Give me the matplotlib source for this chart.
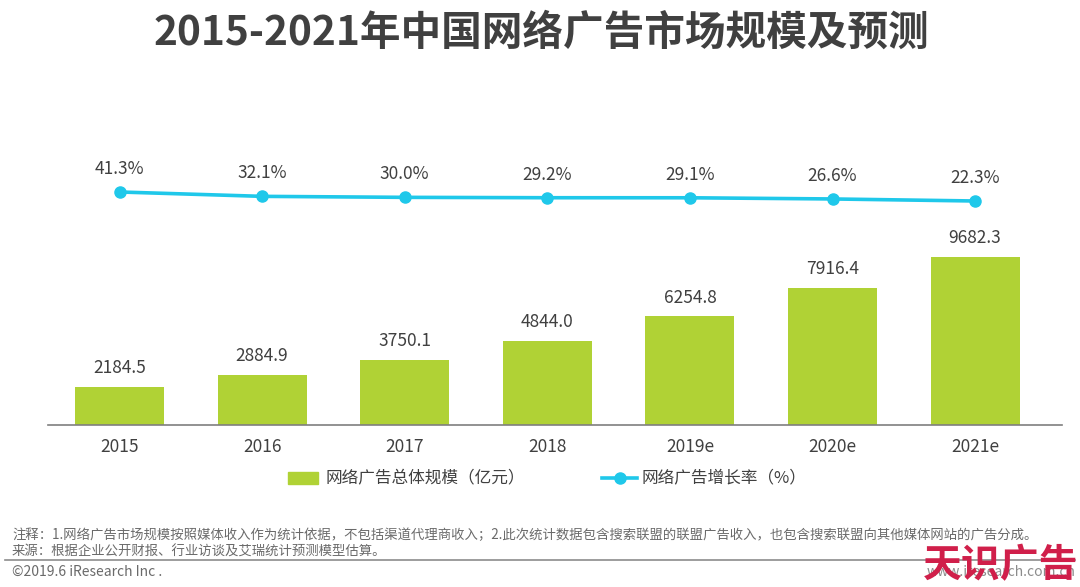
import matplotlib
matplotlib.use("Agg")
import matplotlib.pyplot as plt
from matplotlib.lines import Line2D
from matplotlib.patches import Patch

plt.rcParams['font.family'] = ['Noto Sans CJK SC', 'DejaVu Sans']

W, H = 1080, 587
categories = ['2015', '2016', '2017', '2018', '2019e', '2020e', '2021e']
market_size = [2184.5, 2884.9, 3750.1, 4844.0, 6254.8, 7916.4, 9682.3]
growth_rate = [41.3, 32.1, 30.0, 29.2, 29.1, 26.6, 22.3]
title = '2015-2021年中国网络广告市场规模及预测'
legend_bar = '网络广告总体规模（亿元）'
legend_line = '网络广告增长率（%）'
note1 = '注释：1.网络广告市场规模按照媒体收入作为统计依据，不包括渠道代理商收入；2.此次统计数据包含搜索联盟的联盟广告收入，也包含搜索联盟向其他媒体网站的广告分成。'
note2 = '来源：根据企业公开财报、行业访谈及艾瑞统计预测模型估算。'
copyright_text = '©2019.6 iResearch Inc .'
website = 'www.iresearch.com.cn'
brand = '天识广告'

GREEN = '#B0D235'
BLUE = '#1FC8EA'
TEXT = '#404040'
NOTE = '#6a6a6a'
BRAND = '#D01F4A'

fig = plt.figure(figsize=(W/100, H/100), dpi=100, facecolor='white')

def box(l, t, r, b):
    return [l/W, 1-b/H, (r-l)/W, (b-t)/H]

x = list(range(len(categories)))
ax = fig.add_axes(box(48, 240, 1062, 425))
ax.bar(x, market_size, width=0.625, color=GREEN)
ax.set_xlim((48-119.5)/142.6, (1062-119.5)/142.6)
ax.set_ylim(0, 9682.3*185/168)
for s in ['top', 'left', 'right']:
    ax.spines[s].set_visible(False)
ax.spines['bottom'].set_color('#7f7f7f')
ax.spines['bottom'].set_linewidth(1.2)
ax.set_yticks([])
ax.set_xticks(x)
ax.set_xticklabels(categories, fontsize=12.5, color=TEXT)
ax.tick_params(axis='x', length=0, pad=9)
for xi, v in zip(x, market_size):
    ax.annotate(f'{v:.1f}', (xi, v), xytext=(0, 7), textcoords='offset points',
                ha='center', va='bottom', fontsize=12.5, color=TEXT)

ax2 = fig.add_axes(box(48, 150, 1062, 250))
ax2.patch.set_alpha(0)
ax2.plot(x, growth_rate, color=BLUE, lw=2.6, marker='o', ms=8)
ax2.set_xlim(ax.get_xlim())
ax2.set_ylim(-81.1, 129.9)
ax2.axis('off')
for xi, v in zip(x, growth_rate):
    ax2.annotate(f'{v:.1f}%', (xi, v), xytext=(0, 10), textcoords='offset points',
                 ha='center', va='bottom', fontsize=12.5, color=TEXT)

fig.text(541.5/W, 1-33/H, title, ha='center', va='center', fontsize=29.25,
         fontweight='bold', color='#404040')

h1 = Patch(color=GREEN)
h2 = Line2D([0], [0], color=BLUE, lw=2.6, marker='o', ms=8)
fig.legend([h1], [legend_bar], loc='center left', bbox_to_anchor=(288/W, 1-479/H),
           frameon=False, fontsize=12, labelcolor=TEXT, borderpad=0, borderaxespad=0,
           handlelength=1.8, handletextpad=0.48)
fig.legend([h2], [legend_line], loc='center left', bbox_to_anchor=(602/W, 1-479/H),
           frameon=False, fontsize=12, labelcolor=TEXT, borderpad=0, borderaxespad=0,
           handlelength=2.1, handletextpad=0.25)

fig.add_artist(Line2D([5/W, 1075/W], [1-560/H, 1-560/H], color='#8c8c8c', lw=1.2))
fig.text(12/W, 1-535/H, note1, fontsize=9.64, color=NOTE, va='center')
fig.text(12/W, 1-552/H, note2, fontsize=9.64, color=NOTE, va='center')
fig.text(12/W, 1-572/H, copyright_text, fontsize=10, color=NOTE, va='center')
fig.text(1076/W, 1-572/H, website, fontsize=10, color='#8c8c8c', va='center', ha='right')
fig.text(1000.5/W, 1-566/H, brand, fontsize=28, color=BRAND, fontweight='bold',
         ha='center', va='center', zorder=5)

fig.savefig('out.png', dpi=100)
